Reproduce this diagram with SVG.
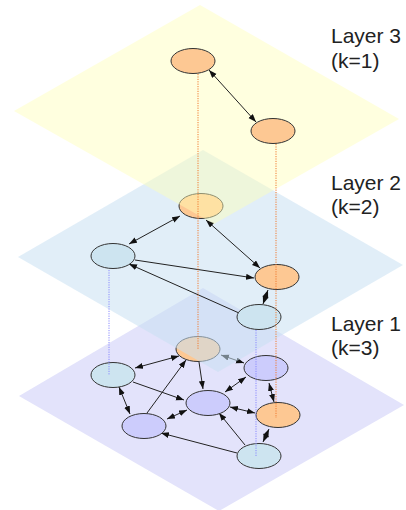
<svg xmlns="http://www.w3.org/2000/svg" width="406" height="510" viewBox="0 0 406 510">
<style>
.node{stroke:#333;stroke-width:1}
.blue{fill:#cde4f0}
.purp{fill:#ccccfc}
.orng{fill:#fdc893}
.edge{stroke:#222;stroke-width:1;fill:none}
.d{marker-start:url(#ah);marker-end:url(#ah)}
.s{marker-end:url(#ah)}
.vo{stroke:#f07a30;stroke-width:1;stroke-dasharray:1.2 1.2;fill:none}
.vb{stroke:#8a8aff;stroke-width:1;stroke-dasharray:1.2 1.2;fill:none}
.lbl{font-family:"Liberation Sans",Arial,sans-serif;font-size:21px;fill:#222}
</style>
<defs>
<marker id="ah" markerUnits="userSpaceOnUse" markerWidth="9" markerHeight="7" refX="8" refY="3" orient="auto-start-reverse" viewBox="0 0 9 7">
<path d="M0,0 L8,3 L0,6 z" fill="#111"/>
</marker>
</defs>

<!-- Layer 1 -->
<polygon id="plane1" points="203,288 19,396 219,511 404,405" fill="#e3e3fb"/>
<g id="connectors-layer1">
<line class="edge d" x1="135" y1="368" x2="179" y2="356"/>
<line class="edge d" x1="221" y1="355" x2="244" y2="363"/>
<line class="edge s" x1="199" y1="362" x2="203" y2="389"/>
<line class="edge s" x1="133" y1="382" x2="184" y2="400"/>
<line class="edge d" x1="119" y1="387" x2="130" y2="414"/>
<line class="edge s" x1="147" y1="413" x2="186" y2="360"/>
<line class="edge d" x1="167" y1="419" x2="187" y2="410"/>
<line class="edge d" x1="246" y1="377" x2="225" y2="392"/>
<line class="edge d" x1="230" y1="407" x2="255" y2="413"/>
<line class="edge d" x1="269" y1="383" x2="274" y2="402"/>
<line class="edge d" x1="269" y1="429" x2="263" y2="442"/>
<line class="edge s" x1="245" y1="445" x2="219" y2="413"/>
<line class="edge s" x1="237" y1="453" x2="161" y2="433"/>
</g>
<g id="G"><ellipse class="node orng" cx="198" cy="349" rx="22" ry="12.5"/></g>
<g id="H"><ellipse class="node blue" cx="113" cy="375" rx="22" ry="12.5"/></g>
<g id="I"><ellipse class="node purp" cx="266" cy="368" rx="22" ry="12.5"/></g>
<g id="J"><ellipse class="node purp" cx="208" cy="403" rx="22" ry="12.5"/></g>
<g id="K"><ellipse class="node orng" cx="278" cy="415" rx="22" ry="12.5"/></g>
<g id="L"><ellipse class="node purp" cx="144" cy="426" rx="22" ry="12.5"/></g>
<g id="M"><ellipse class="node blue" cx="259" cy="456" rx="22" ry="12.5"/></g>

<!-- Layer 2 -->
<polygon id="plane2" points="203,150 18,257 218,372 403,265" fill="#c8e0f2" fill-opacity="0.55"/>
<g id="connectors-layer2">
<line class="edge d" x1="180" y1="216" x2="129" y2="244"/>
<line class="edge d" x1="206" y1="220" x2="260" y2="268"/>
<line class="edge s" x1="135" y1="260" x2="254" y2="278"/>
<line class="edge s" x1="239" y1="313" x2="129" y2="264"/>
<line class="edge d" x1="263" y1="304" x2="268" y2="290"/>
</g>
<g id="C"><ellipse class="node orng" cx="201" cy="206" rx="22" ry="12.5"/></g>
<g id="D"><ellipse class="node blue" cx="113" cy="256" rx="22" ry="12.5"/></g>
<g id="E"><ellipse class="node orng" cx="277" cy="277" rx="22" ry="12.5"/></g>
<g id="F"><ellipse class="node blue" cx="259" cy="317" rx="22" ry="12.5"/></g>

<!-- Layer 3 -->
<polygon id="plane3" points="200,5 14,111 214,224 399,119" fill="#ffffb8" fill-opacity="0.45"/>
<g id="connectors-layer3">
<line class="edge d" x1="209" y1="70" x2="256" y2="122"/>
</g>
<g id="A"><ellipse class="node orng" cx="193" cy="61" rx="22" ry="12.5"/></g>
<g id="B"><ellipse class="node orng" cx="273" cy="131" rx="22" ry="12.5"/></g>

<!-- vertical correspondence lines -->
<g id="connectors-vertical">
<line class="vo" x1="198" y1="74" x2="198" y2="349"/>
<line class="vo" x1="276" y1="144" x2="276" y2="418"/>
<line class="vb" x1="109" y1="270" x2="109" y2="375"/>
<line class="vb" x1="256" y1="330" x2="256" y2="457"/>
</g>

<g id="labels">
<text class="lbl" x="331" y="43">Layer 3</text>
<text class="lbl" x="331" y="68">(k=1)</text>
<text class="lbl" x="331" y="190">Layer 2</text>
<text class="lbl" x="331" y="214">(k=2)</text>
<text class="lbl" x="331" y="331">Layer 1</text>
<text class="lbl" x="331" y="355">(k=3)</text>
</g>
</svg>
